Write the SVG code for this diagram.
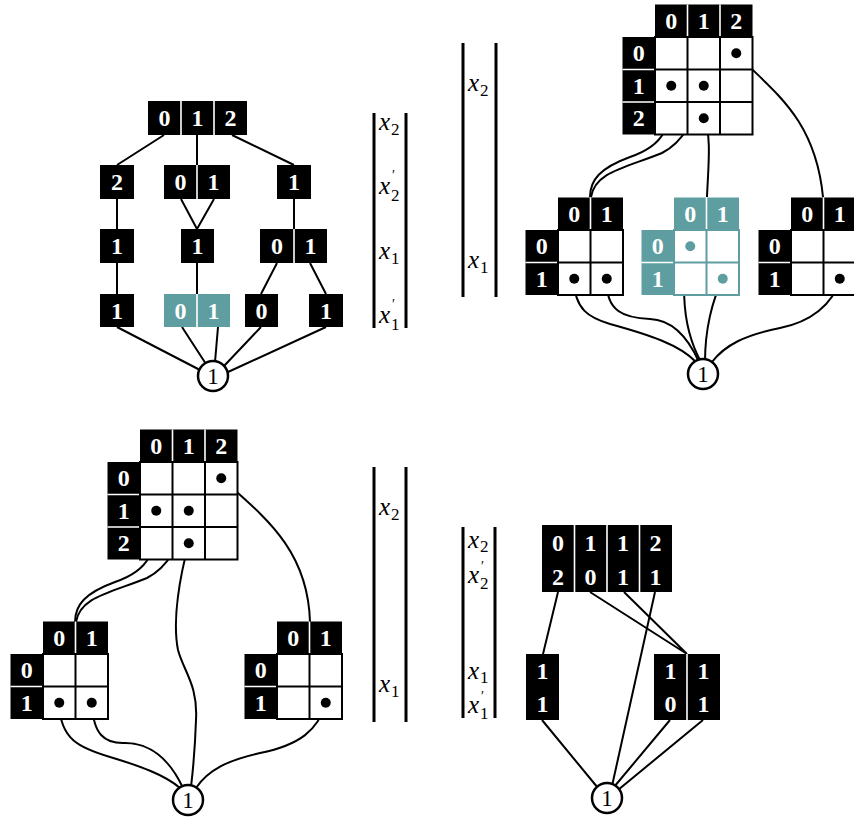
<svg xmlns="http://www.w3.org/2000/svg" xmlns:xlink="http://www.w3.org/1999/xlink" width="854" height="821" viewBox="0 0 854 821">
  <style>
    .hd { fill: #000; }
    .hdt { fill: #5f9ea0; }
    .ws { stroke: #fff; stroke-width: 1.6; fill: none; }
    .gr { fill: #fff; stroke: #000; stroke-width: 2; }
    .gl { stroke: #000; stroke-width: 2; fill: none; }
    .grt { fill: #fff; stroke: #5f9ea0; stroke-width: 2; }
    .glt { stroke: #5f9ea0; stroke-width: 2; fill: none; }
    .num { font-family: "Liberation Serif", "DejaVu Serif", serif; font-weight: bold; font-size: 24px; fill: #fff; text-anchor: middle; }
    .dot { fill: #000; }
    .dott { fill: #5f9ea0; }
    .edge { stroke: #000; stroke-width: 2; fill: none; }
    .root { fill: #fff; stroke: #000; stroke-width: 2.5; }
    .rt { font-family: "Liberation Serif", "DejaVu Serif", serif; font-size: 23px; fill: #000; text-anchor: middle; }
    .bar { stroke: #000; stroke-width: 3; }
    .lbl { font-family: "Liberation Serif", "DejaVu Serif", serif; font-style: italic; font-size: 25px; fill: #000; }
    .sub { font-style: normal; font-size: 17px; }
    .pr { font-style: normal; font-size: 14px; }
  </style>
  <defs>
    <!-- 3x3 table frame: origin is the top-left corner of the white grid -->
    <g id="f3">
      <rect class="hd" x="0" y="-32.5" width="97.5" height="32.5"/>
      <rect class="hd" x="-32.5" y="0" width="32.5" height="97.5"/>
      <path class="ws" d="M32.5,-32.5V0M65,-32.5V0M-32.5,32.5H0M-32.5,65H0"/>
      <rect class="gr" x="0" y="0" width="97.5" height="97.5"/>
      <path class="gl" d="M32.5,0V97.5M65,0V97.5M0,32.5H97.5M0,65H97.5"/>
    </g>
    <!-- 2x2 table frame -->
    <g id="f2">
      <rect class="hd" x="0" y="-32.5" width="65" height="32.5"/>
      <rect class="hd" x="-32.5" y="0" width="32.5" height="65"/>
      <path class="ws" d="M32.5,-32.5V0M-32.5,32.5H0"/>
      <rect class="gr" x="0" y="0" width="65" height="65"/>
      <path class="gl" d="M32.5,0V65M0,32.5H65"/>
    </g>
    <!-- 2x2 table frame, highlighted -->
    <g id="f2t">
      <rect class="hdt" x="0" y="-32.5" width="65" height="32.5"/>
      <rect class="hdt" x="-32.5" y="0" width="32.5" height="65"/>
      <path class="ws" d="M32.5,-32.5V0M-32.5,32.5H0"/>
      <rect class="grt" x="0" y="0" width="65" height="65"/>
      <path class="glt" d="M32.5,0V65M0,32.5H65"/>
    </g>
  </defs>

  <rect x="0" y="0" width="854" height="821" fill="#fff"/>

  <!-- ===== connectors ===== -->
  <g id="connectors">
    <!-- top-left tree -->
    <path class="edge" d="M164,135L117,165M197,135V165M232,135L294,165"/>
    <path class="edge" d="M181,199L197,229M214,199L197,229M117,199V229M294,199V229"/>
    <path class="edge" d="M117,263V294M197,263V294M277,263L261,294M310,263L326,294"/>
    <path class="edge" d="M117,327L200,370M182,327L206,364M218,327L215,362M261,327L224,366M326,327L228,372"/>
    <!-- top-right tables -->
    <path class="edge" d="M671,86C671,128 665,145 630,157C600,168 590,180 590,197"/>
    <path class="edge" d="M704,86C694,112 690,138 662,153C625,168 595,172 591,197"/>
    <path class="edge" d="M704,118C712,135 708,170 707,197"/>
    <path class="edge" d="M736,53C770,90 815,115 823,197"/>
    <path class="edge" d="M574,279C574,310 590,318 610,324C650,335 680,345 696,362"/>
    <path class="edge" d="M607,279C605,312 625,318 650,319C675,320 690,342 699,362"/>
    <path class="edge" d="M690,246C683,270 678,320 701,362"/>
    <path class="edge" d="M723,279C712,300 705,330 705,362"/>
    <path class="edge" d="M840,279C833,305 810,322 780,328C745,335 725,345 712,362"/>
    <!-- bottom-left tables -->
    <path class="edge" d="M156,511C156,553 150,570 115,582C85,593 75,605 75,622"/>
    <path class="edge" d="M189,511C179,537 175,563 147,578C110,593 80,597 76,622"/>
    <path class="edge" d="M189,543C180,575 172,620 178,650C184,672 198,685 196,720C195,750 193,770 191,787"/>
    <path class="edge" d="M221,478C262,515 308,548 310,622"/>
    <path class="edge" d="M59,703C60,740 80,748 110,757C140,766 165,775 180,788"/>
    <path class="edge" d="M92,703C93,735 105,743 123,743C150,742 170,760 183,788"/>
    <path class="edge" d="M326,703C318,730 300,745 260,753C228,760 208,770 196,788"/>
    <!-- bottom-right tree -->
    <path class="edge" d="M558,592L543,654M590,592L687,654M624,592L687,654"/>
    <path class="edge" d="M655,592L612,786"/>
    <path class="edge" d="M542,720L598,788M670,720L614,787M703,720L618,790"/>
  </g>

  <!-- ===== top-left tree ===== -->
  <g id="tl-012">
    <rect class="hd" x="148" y="101" width="99" height="34"/>
    <path class="ws" d="M181,101V135M214,101V135"/>
    <text class="num" x="164.5" y="126">0</text>
    <text class="num" x="197.5" y="126">1</text>
    <text class="num" x="230.5" y="126">2</text>
  </g>
  <g id="tl-2">
    <rect class="hd" x="100" y="165" width="34" height="34"/>
    <text class="num" x="117" y="190">2</text>
  </g>
  <g id="tl-01a">
    <rect class="hd" x="164" y="165" width="66" height="34"/>
    <path class="ws" d="M197,165V199"/>
    <text class="num" x="180.5" y="190">0</text>
    <text class="num" x="213.5" y="190">1</text>
  </g>
  <g id="tl-1a">
    <rect class="hd" x="277" y="165" width="34" height="34"/>
    <text class="num" x="294" y="190">1</text>
  </g>
  <g id="tl-1b">
    <rect class="hd" x="100" y="229" width="34" height="34"/>
    <text class="num" x="117" y="254">1</text>
  </g>
  <g id="tl-1c">
    <rect class="hd" x="181" y="229" width="33" height="34"/>
    <text class="num" x="197.5" y="254">1</text>
  </g>
  <g id="tl-01b">
    <rect class="hd" x="260" y="229" width="67" height="34"/>
    <path class="ws" d="M294,229V263"/>
    <text class="num" x="277" y="254">0</text>
    <text class="num" x="310.5" y="254">1</text>
  </g>
  <g id="tl-1d">
    <rect class="hd" x="100" y="294" width="34" height="33"/>
    <text class="num" x="117" y="318.5">1</text>
  </g>
  <g id="tl-01c">
    <rect class="hdt" x="164" y="294" width="66" height="33"/>
    <path class="ws" d="M197,294V327"/>
    <text class="num" x="180.5" y="318.5">0</text>
    <text class="num" x="213.5" y="318.5">1</text>
  </g>
  <g id="tl-0">
    <rect class="hd" x="245" y="294" width="33" height="33"/>
    <text class="num" x="261.5" y="318.5">0</text>
  </g>
  <g id="tl-1e">
    <rect class="hd" x="309" y="294" width="34" height="33"/>
    <text class="num" x="326" y="318.5">1</text>
  </g>
  <g id="tl-root">
    <circle class="root" cx="213" cy="376" r="15"/>
    <text class="rt" x="213" y="384">1</text>
  </g>

  <!-- variable columns -->
  <g id="vars-tl">
    <path class="bar" d="M374,113V328M406,113V328"/>
    <text class="lbl" x="379" y="130">x<tspan class="sub" x="391" y="135">2</tspan></text>
    <text class="lbl" x="379" y="194">x<tspan class="pr" x="392" y="180">′</tspan><tspan class="sub" x="391" y="201">2</tspan></text>
    <text class="lbl" x="379" y="259">x<tspan class="sub" x="391" y="264">1</tspan></text>
    <text class="lbl" x="379" y="323">x<tspan class="pr" x="392" y="309">′</tspan><tspan class="sub" x="391" y="330">1</tspan></text>
  </g>
  <g id="vars-tr">
    <path class="bar" d="M463,43V297M496,43V297"/>
    <text class="lbl" x="468" y="91">x<tspan class="sub" x="480" y="96">2</tspan></text>
    <text class="lbl" x="468" y="268">x<tspan class="sub" x="480" y="273">1</tspan></text>
  </g>
  <g id="vars-bl">
    <path class="bar" d="M374,467V722M406,467V722"/>
    <text class="lbl" x="379" y="515">x<tspan class="sub" x="391" y="520">2</tspan></text>
    <text class="lbl" x="379" y="692">x<tspan class="sub" x="391" y="697">1</tspan></text>
  </g>
  <g id="vars-br">
    <path class="bar" d="M463,527V718M495,527V718"/>
    <text class="lbl" x="468" y="548">x<tspan class="sub" x="480" y="552">2</tspan></text>
    <text class="lbl" x="468" y="583">x<tspan class="pr" x="481" y="571">′</tspan><tspan class="sub" x="480" y="589">2</tspan></text>
    <text class="lbl" x="468" y="679">x<tspan class="sub" x="480" y="683">1</tspan></text>
    <text class="lbl" x="468" y="713">x<tspan class="pr" x="481" y="701">′</tspan><tspan class="sub" x="480" y="719">1</tspan></text>
  </g>

  <!-- ===== top-right tables ===== -->
  <g id="tr-big" transform="translate(655,37)">
    <use xlink:href="#f3" href="#f3"/>
    <text class="num" x="16.25" y="-8">0</text>
    <text class="num" x="48.75" y="-8">1</text>
    <text class="num" x="81.25" y="-8">2</text>
    <text class="num" x="-16.25" y="24.25">0</text>
    <text class="num" x="-16.25" y="56.75">1</text>
    <text class="num" x="-16.25" y="89.25">2</text>
    <circle class="dot" cx="81.25" cy="16.25" r="5"/>
    <circle class="dot" cx="16.25" cy="48.75" r="5"/>
    <circle class="dot" cx="48.75" cy="48.75" r="5"/>
    <circle class="dot" cx="48.75" cy="81.25" r="5"/>
  </g>
  <g id="tr-left" transform="translate(558,230)">
    <use xlink:href="#f2" href="#f2"/>
    <text class="num" x="16.25" y="-8">0</text>
    <text class="num" x="48.75" y="-8">1</text>
    <text class="num" x="-16.25" y="24.25">0</text>
    <text class="num" x="-16.25" y="56.75">1</text>
    <circle class="dot" cx="16.25" cy="48.75" r="5"/>
    <circle class="dot" cx="48.75" cy="48.75" r="5"/>
  </g>
  <g id="tr-mid" transform="translate(674,230)">
    <use xlink:href="#f2t" href="#f2t"/>
    <text class="num" x="16.25" y="-8">0</text>
    <text class="num" x="48.75" y="-8">1</text>
    <text class="num" x="-16.25" y="24.25">0</text>
    <text class="num" x="-16.25" y="56.75">1</text>
    <circle class="dott" cx="16.25" cy="16.25" r="5"/>
    <circle class="dott" cx="48.75" cy="48.75" r="5"/>
  </g>
  <g id="tr-right" transform="translate(791,230)">
    <use xlink:href="#f2" href="#f2"/>
    <text class="num" x="16.25" y="-8">0</text>
    <text class="num" x="48.75" y="-8">1</text>
    <text class="num" x="-16.25" y="24.25">0</text>
    <text class="num" x="-16.25" y="56.75">1</text>
    <circle class="dot" cx="48.75" cy="48.75" r="5"/>
  </g>
  <g id="tr-root">
    <circle class="root" cx="703" cy="374" r="15"/>
    <text class="rt" x="703" y="382">1</text>
  </g>

  <!-- ===== bottom-left tables ===== -->
  <g id="bl-big" transform="translate(140,462)">
    <use xlink:href="#f3" href="#f3"/>
    <text class="num" x="16.25" y="-8">0</text>
    <text class="num" x="48.75" y="-8">1</text>
    <text class="num" x="81.25" y="-8">2</text>
    <text class="num" x="-16.25" y="24.25">0</text>
    <text class="num" x="-16.25" y="56.75">1</text>
    <text class="num" x="-16.25" y="89.25">2</text>
    <circle class="dot" cx="81.25" cy="16.25" r="5"/>
    <circle class="dot" cx="16.25" cy="48.75" r="5"/>
    <circle class="dot" cx="48.75" cy="48.75" r="5"/>
    <circle class="dot" cx="48.75" cy="81.25" r="5"/>
  </g>
  <g id="bl-left" transform="translate(43,654)">
    <use xlink:href="#f2" href="#f2"/>
    <text class="num" x="16.25" y="-8">0</text>
    <text class="num" x="48.75" y="-8">1</text>
    <text class="num" x="-16.25" y="24.25">0</text>
    <text class="num" x="-16.25" y="56.75">1</text>
    <circle class="dot" cx="16.25" cy="48.75" r="5"/>
    <circle class="dot" cx="48.75" cy="48.75" r="5"/>
  </g>
  <g id="bl-right" transform="translate(277,654)">
    <use xlink:href="#f2" href="#f2"/>
    <text class="num" x="16.25" y="-8">0</text>
    <text class="num" x="48.75" y="-8">1</text>
    <text class="num" x="-16.25" y="24.25">0</text>
    <text class="num" x="-16.25" y="56.75">1</text>
    <circle class="dot" cx="48.75" cy="48.75" r="5"/>
  </g>
  <g id="bl-root">
    <circle class="root" cx="188" cy="800" r="15"/>
    <text class="rt" x="188" y="808">1</text>
  </g>

  <!-- ===== bottom-right tree ===== -->
  <g id="br-top">
    <rect class="hd" x="542" y="525" width="130" height="67"/>
    <path class="ws" d="M574.5,525V592M607,525V592M639.5,525V592"/>
    <text class="num" x="558" y="551">0</text>
    <text class="num" x="590.5" y="551">1</text>
    <text class="num" x="623" y="551">1</text>
    <text class="num" x="655.5" y="551">2</text>
    <text class="num" x="558" y="585">2</text>
    <text class="num" x="590.5" y="585">0</text>
    <text class="num" x="623" y="585">1</text>
    <text class="num" x="655.5" y="585">1</text>
  </g>
  <g id="br-left">
    <rect class="hd" x="526" y="654" width="33" height="66"/>
    <text class="num" x="542.5" y="679">1</text>
    <text class="num" x="542.5" y="712">1</text>
  </g>
  <g id="br-right">
    <rect class="hd" x="654" y="654" width="66" height="66"/>
    <path class="ws" d="M687,654V720"/>
    <text class="num" x="670.5" y="679">1</text>
    <text class="num" x="703.5" y="679">1</text>
    <text class="num" x="670.5" y="712">0</text>
    <text class="num" x="703.5" y="712">1</text>
  </g>
  <g id="br-root">
    <circle class="root" cx="607" cy="798" r="15"/>
    <text class="rt" x="607" y="806">1</text>
  </g>
</svg>
